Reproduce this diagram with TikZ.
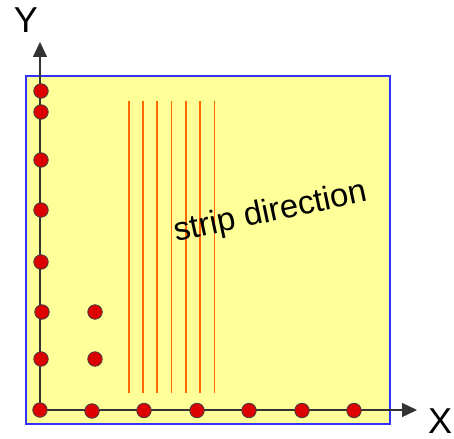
\documentclass[tikz,border=0pt]{standalone}
\usepackage{fontspec}
\setmainfont{Liberation Sans}
\usepackage{xcolor}
\usetikzlibrary{arrows.meta, positioning}
\definecolor{padyellow}{HTML}{FFFF99}
\definecolor{padblue}{HTML}{3333FF}
\definecolor{dotred}{HTML}{DD0000}
\definecolor{stripred}{HTML}{FF6A00}
\tikzset{
  pad/.style={draw=padblue, fill=padyellow, line width=1.2pt},
  dot/.style={circle, draw=black!75, fill=dotred, line width=0.8pt,
              minimum size=14.5pt, inner sep=0pt},
  axis/.style={line width=1.3pt, black!80,
               -{Triangle[length=15pt, width=14pt]}},
  strip/.style={line width=1.1pt, stripred},
  lab/.style={font=\fontsize{36}{40}\selectfont, inner sep=0pt},
}

\begin{document}
\begin{tikzpicture}[x=1pt, y=-1pt]
  \useasboundingbox (0,0) rectangle (454,438);
  \draw[pad] (26,76) rectangle (390,424);
  % strips
  \foreach \sx in {129,143,157,171.5,186,200,214.5}
    \draw[strip] (\sx,101) -- (\sx,393);
  \node[rotate=12, font=\fontsize{33}{36}\selectfont] (dir) at (271,213) {strip direction};
  % axes
  \coordinate (o) at (40,410);
  \coordinate (ytip) at (40,42);
  \coordinate (xtip) at (417,410);
  \draw[axis] (o) -- (ytip);
  \draw[axis] (o) -- (xtip);
  \node[lab] (ylab) at (26,20) {Y};
  \node[lab] (xlab) at (440,421) {X};
  % pads along Y
  \node[dot] (y7) at (41,91) {};
  \node[dot] (y6) at (41,112) {};
  \node[dot] (y5) at (41,160) {};
  \node[dot] (y4) at (41,210) {};
  \node[dot] (y3) at (41,262) {};
  \node[dot] (y2) at (42,312) {};
  \node[dot] (y1) at (41,359) {};
  \node[dot] (y0) at (40,410) {};
  % pads along X
  \node[dot] (x1) at (92,411) {};
  \node[dot] (x2) at (144,410.5) {};
  \node[dot] (x3) at (197,410.5) {};
  \node[dot] (x4) at (249,410.5) {};
  \node[dot] (x5) at (302,410.5) {};
  \node[dot] (x6) at (354,410.5) {};
  % inner pads
  \node[dot] (p2) at (95,312) {};
  \node[dot] (p1) at (95,359) {};
\end{tikzpicture}
\end{document}
